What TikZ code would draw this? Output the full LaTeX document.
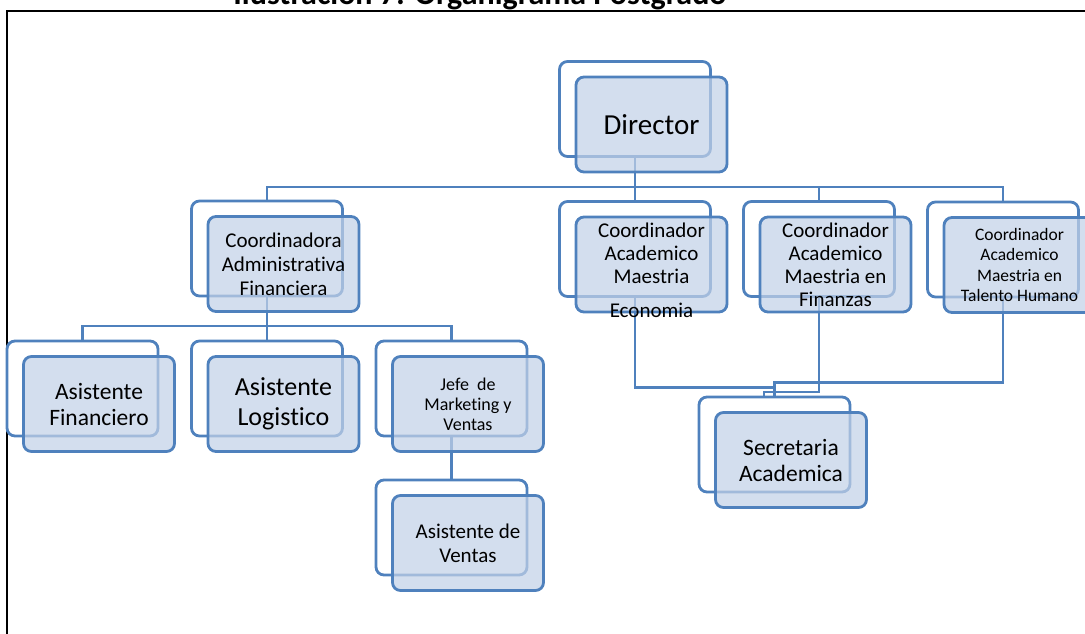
\documentclass[tikz,border=0pt]{standalone}
\usepackage{fontspec}
\setmainfont{Carlito}[RawFeature={-liga;-clig;-calt;-dlig}]
\usetikzlibrary{calc}
\definecolor{orgline}{RGB}{79,129,189}
\definecolor{orgfill}{RGB}{194,209,231}
\tikzset{
  backbox/.style={draw=orgline, line width=2.8, rounded corners=8,
    minimum width=151, minimum height=95, inner sep=0},
  frontbox/.style={backbox, fill=orgfill, fill opacity=0.72,
    text opacity=1, text=black, align=center},
  link/.style={draw=orgline, line width=2.6},
  fs/.style 2 args={font=\fontsize{#1}{#2}\selectfont}
}
\begin{document}
\begin{tikzpicture}[x=1pt,y=-1pt]
\clip (0,0) rectangle (1085,634);

% caption and frame
\node[font=\bfseries\fontsize{32}{32}\selectfont, anchor=base] (title) at (480,5)
  {Ilustración 7: Organigrama Postgrado};
\draw[line width=1.6] (7,11) rectangle (1110,660);

% outline (back) boxes
\node[backbox] (dirB)  at (635,109)   {};
\node[backbox] (coadB) at (267,248.5) {};
\node[backbox] (ecoB)  at (635,249)   {};
\node[backbox] (finB)  at (819,249)   {};
\node[backbox] (talB)  at (1003,249.5){};
\node[backbox] (afinB) at (82.5,388.5){};
\node[backbox] (alogB) at (267,388.5) {};
\node[backbox] (jefeB) at (451.5,388.5){};
\node[backbox] (avenB) at (451.5,527.5){};
\node[backbox] (secB)  at (774.5,444.5){};

% connectors
\coordinate (busA) at (0,187);
\coordinate (busB) at (0,326);
\foreach \c in {coadB,ecoB,finB,talB}
  \draw[link] (dirB.south) -- (dirB.south |- busA) -| (\c.north);
\foreach \c in {afinB,alogB,jefeB}
  \draw[link] (coadB.south) -- (coadB.south |- busB) -| (\c.north);
\draw[link] (jefeB.south) -- (avenB.north);
\draw[link] (ecoB.south) -- ++(0,89.5) -| (secB.north);
\draw[link] (finB.south) -- ++(0,94) -| ([xshift=-10.5]secB.north);
\draw[link] (talB.south) -- ++(0,84) -| (secB.north);

% filled (front) boxes with their texts
\node[frontbox, fs={29}{32}] (dirF) at ($(dirB)+(16.5,15.5)$) {Director};
\node[frontbox, fs={21}{24}] (coadF) at ($(coadB)+(16.5,15.5)$)
  {Coordinadora\\Administrativa\\Financiera};
\node[frontbox] (ecoF) at ($(ecoB)+(16.5,15.5)$) {};
\node[fs={21}{23}, align=center] (ecoT) at ($(ecoF)+(0,6)$)
  {Coordinador\\Academico\\Maestria\\[11pt]Economia};
\node[frontbox, fs={21}{23}] (finF) at ($(finB)+(16.5,15.5)$)
  {Coordinador\\Academico\\Maestria en\\Finanzas};
\node[frontbox, fs={17.5}{20.5}] (talF) at ($(talB)+(16.5,15.5)$)
  {Coordinador\\Academico\\Maestria en\\Talento Humano};
\node[frontbox, fs={23.5}{26}] (afinF) at ($(afinB)+(16.5,15.5)$)
  {Asistente\\Financiero};
\node[frontbox, fs={26}{30}] (alogF) at ($(alogB)+(16.5,15.5)$)
  {Asistente\\Logistico};
\node[frontbox, fs={18}{20}] (jefeF) at ($(jefeB)+(16.5,15.5)$)
  {Jefe\ \ de\\Marketing y\\Ventas};
\node[frontbox, fs={21}{24}] (avenF) at ($(avenB)+(16.5,15.5)$)
  {Asistente de\\Ventas};
\node[frontbox, fs={23.5}{26}] (secF) at ($(secB)+(16.5,15.5)$)
  {Secretaria\\Academica};
\end{tikzpicture}
\end{document}
